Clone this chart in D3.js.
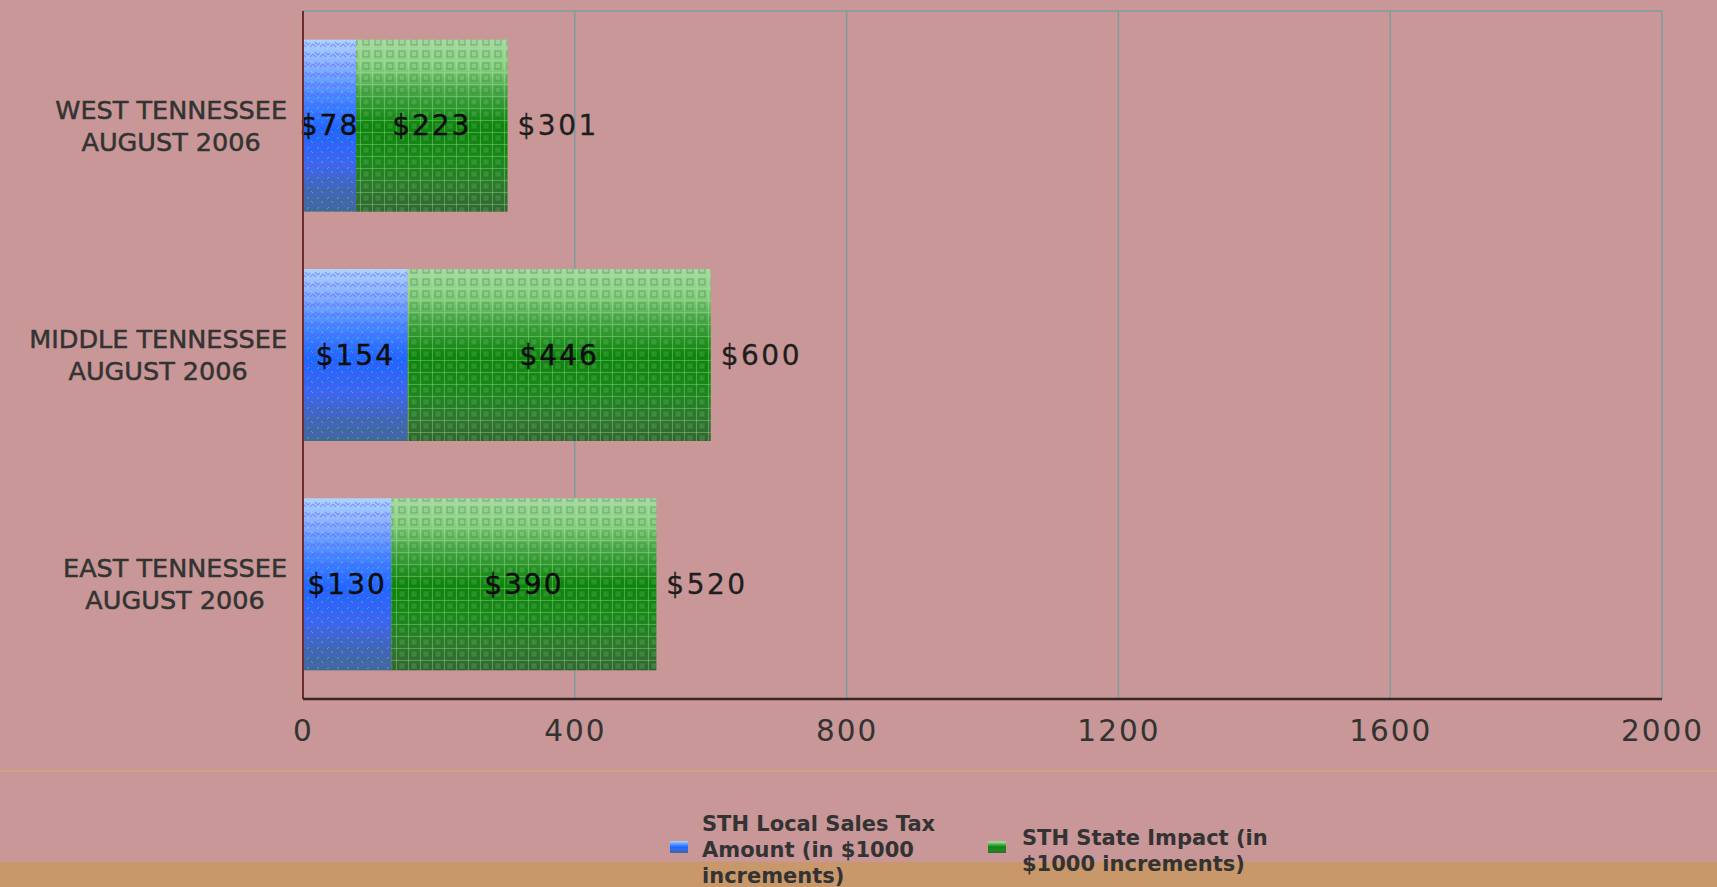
<!DOCTYPE html>
<html>
<head>
<meta charset="utf-8">
<script src="https://cdn.jsdelivr.net/npm/d3@7"></script>
<style>
  html, body { margin: 0; padding: 0; background: #c99797; }
  svg { display: block; }
</style>
</head>
<body>
<svg id="chart" width="1717" height="887"></svg>
<script>
// Regions (top to bottom) and their two stacked components, in $1000s
const categories = [
  ["WEST TENNESSEE", "AUGUST 2006"],
  ["MIDDLE TENNESSEE", "AUGUST 2006"],
  ["EAST TENNESSEE", "AUGUST 2006"]
];
const localSalesTax = [78, 154, 130];
const stateImpact = [223, 446, 390];
const totals = [301, 600, 520];
const xTicks = [0, 400, 800, 1200, 1600, 2000];
const seriesNames = [
  ["STH Local Sales Tax", "Amount (in $1000", "increments)"],
  ["STH State Impact (in", "$1000 increments)"]
];

const W = 1717, H = 887;
const plot = { left: 303, right: 1662, top: 11, bottom: 699 };
const svg = d3.select("#chart");

// backdrop pieces
svg.append("rect").attr("x", 0).attr("y", 0).attr("width", W).attr("height", H).attr("fill", "#c99797");
svg.append("rect").attr("x", 0).attr("y", 862).attr("width", W).attr("height", H - 862).attr("fill", "#c9986a");
svg.append("line").attr("x1", 0).attr("x2", W).attr("y1", 771).attr("y2", 771)
  .attr("stroke", "#d4a07e").attr("stroke-width", 2);

const x = d3.scaleLinear().domain([0, 2000]).range([plot.left, plot.right]);
const keys = categories.map(c => c.join(" "));
const y = d3.scaleBand().domain(keys).range([plot.top, plot.bottom])
  .paddingInner(0.25).paddingOuter(0.125);

// fills: vertical shading plus a fine texture
const defs = svg.append("defs");
function vGrad(id, stops) {
  const g = defs.append("linearGradient").attr("id", id)
    .attr("x1", 0).attr("y1", 0).attr("x2", 0).attr("y2", 1);
  stops.forEach(([o, c]) => g.append("stop").attr("offset", o).attr("stop-color", c));
}
vGrad("gBlue", [[0, "#aed4ff"], [0.14, "#8ab2ff"], [0.32, "#4a8cff"], [0.52, "#1b68ff"],
  [0.72, "#3a68ec"], [0.88, "#3e69ae"], [1, "#3e6b92"]]);
vGrad("gGreen", [[0, "#a7d9a4"], [0.16, "#88cf82"], [0.3, "#4aa84a"], [0.5, "#0c860c"],
  [0.7, "#1b8a1b"], [0.85, "#2e7a2e"], [1, "#346634"]]);

const pBlue = defs.append("pattern").attr("id", "pBlue").attr("patternUnits", "userSpaceOnUse")
  .attr("width", 10).attr("height", 10);
pBlue.append("path").attr("d", "M0 7 L3 4 L6 7 M5 2 L8 5 L10 3")
  .attr("fill", "none").attr("stroke", "rgba(90,80,255,0.45)").attr("stroke-width", 1.2);
pBlue.append("path").attr("d", "M1 1 L3 3 M7 9 L9 7")
  .attr("fill", "none").attr("stroke", "rgba(200,220,255,0.35)").attr("stroke-width", 1);

const pGreen = defs.append("pattern").attr("id", "pGreen").attr("patternUnits", "userSpaceOnUse")
  .attr("width", 12).attr("height", 12);
pGreen.append("path").attr("d", "M0 0.5 H12 M0.5 0 V12")
  .attr("fill", "none").attr("stroke", "rgba(170,235,150,0.35)").attr("stroke-width", 1);
pGreen.append("rect").attr("x", 3).attr("y", 3).attr("width", 6).attr("height", 6)
  .attr("fill", "rgba(120,200,120,0.22)").attr("stroke", "rgba(30,90,30,0.35)").attr("stroke-width", 1);

// grid lines and frame
const grid = svg.append("g");
grid.selectAll("line.v").data(xTicks.filter(t => t > 0)).join("line")
  .attr("x1", d => x(d)).attr("x2", d => x(d))
  .attr("y1", plot.top).attr("y2", plot.bottom)
  .attr("stroke", "#7f9c9c").attr("stroke-width", 1.5);
grid.append("line").attr("x1", plot.left).attr("x2", plot.right)
  .attr("y1", plot.top).attr("y2", plot.top)
  .attr("stroke", "#7f9c9c").attr("stroke-width", 1.5);

// stacked bars
const rows = keys.map((k, i) => ({ key: k, a: localSalesTax[i], b: stateImpact[i], total: totals[i] }));
const bars = svg.append("g");
rows.forEach(r => {
  const segs = [
    { x0: 0, x1: r.a, fill: "url(#gBlue)", tex: "url(#pBlue)", v: r.a },
    { x0: r.a, x1: r.a + r.b, fill: "url(#gGreen)", tex: "url(#pGreen)", v: r.b }
  ];
  segs.forEach(s => {
    bars.append("rect").attr("x", x(s.x0)).attr("y", y(r.key))
      .attr("width", x(s.x1) - x(s.x0)).attr("height", y.bandwidth()).attr("fill", s.fill);
    bars.append("rect").attr("x", x(s.x0)).attr("y", y(r.key))
      .attr("width", x(s.x1) - x(s.x0)).attr("height", y.bandwidth()).attr("fill", s.tex);
    bars.append("text").attr("x", x((s.x0 + s.x1) / 2)).attr("y", y(r.key) + y.bandwidth() / 2)
      .attr("text-anchor", "middle").attr("dominant-baseline", "central")
      .attr("font-family", "DejaVu Sans").attr("font-size", 28).attr("letter-spacing", 2)
      .attr("fill", "#0d0d0d").attr("stroke", "#0d0d0d").attr("stroke-width", 0.4)
      .text("$" + s.v);
  });
  bars.append("text").attr("x", x(r.total) + 10).attr("y", y(r.key) + y.bandwidth() / 2)
    .attr("text-anchor", "start").attr("dominant-baseline", "central")
    .attr("font-family", "DejaVu Sans").attr("font-size", 28).attr("letter-spacing", 2.5)
    .attr("fill", "#1e1e1e").attr("stroke", "#1e1e1e").attr("stroke-width", 0.3)
    .text("$" + r.total);
});

// axes lines
svg.append("line").attr("x1", plot.left).attr("x2", plot.left)
  .attr("y1", plot.top).attr("y2", plot.bottom)
  .attr("stroke", "#6e2a2a").attr("stroke-width", 2);
svg.append("line").attr("x1", plot.left).attr("x2", plot.right)
  .attr("y1", plot.bottom).attr("y2", plot.bottom)
  .attr("stroke", "#3a2424").attr("stroke-width", 2.5);

// x tick labels
const xAxis = d3.axisBottom(x).tickValues(xTicks).tickSize(0).tickPadding(0).tickFormat(d3.format("d"));
const gx = svg.append("g").attr("transform", `translate(0,${plot.bottom})`).call(xAxis);
gx.select(".domain").remove();
gx.selectAll("text").attr("y", 32).attr("dy", "0.35em")
  .attr("font-family", "DejaVu Sans").attr("font-size", 29.5).attr("letter-spacing", 2)
  .attr("fill", "#333");

// category labels: block right-aligned, lines centered within the block
const labelRight = 287;
const catG = svg.append("g");
categories.forEach((lines, i) => {
  const cy = y(keys[i]) + y.bandwidth() / 2;
  const texts = lines.map((ln, j) => catG.append("text")
    .attr("y", cy + (j - (lines.length - 1) / 2) * 32)
    .attr("dominant-baseline", "central").attr("text-anchor", "middle")
    .attr("font-family", "DejaVu Sans").attr("font-size", 25.5)
    .attr("fill", "#333").attr("stroke", "#333").attr("stroke-width", 0.5)
    .text(ln));
  const widths = texts.map(t => t.node().getComputedTextLength());
  const maxW = d3.max(widths);
  texts.forEach(t => t.attr("x", labelRight - maxW / 2));
});

// legend
const legend = svg.append("g");
const legendItems = [
  { lines: seriesNames[0], sx: 670, tx: 702, fill: "url(#gBlue)", tex: "url(#pBlue)", first: 831 },
  { lines: seriesNames[1], sx: 988, tx: 1022, fill: "url(#gGreen)", tex: "url(#pGreen)", first: 845 }
];
legendItems.forEach(it => {
  legend.append("rect").attr("x", it.sx).attr("y", 841).attr("width", 18).attr("height", 12)
    .attr("fill", it.fill);
  it.lines.forEach((ln, j) => legend.append("text")
    .attr("x", it.tx).attr("y", it.first + j * 26)
    .attr("font-family", "DejaVu Sans").attr("font-weight", "bold").attr("font-size", 21)
    .attr("fill", "#333").text(ln));
});
</script>
</body>
</html>
